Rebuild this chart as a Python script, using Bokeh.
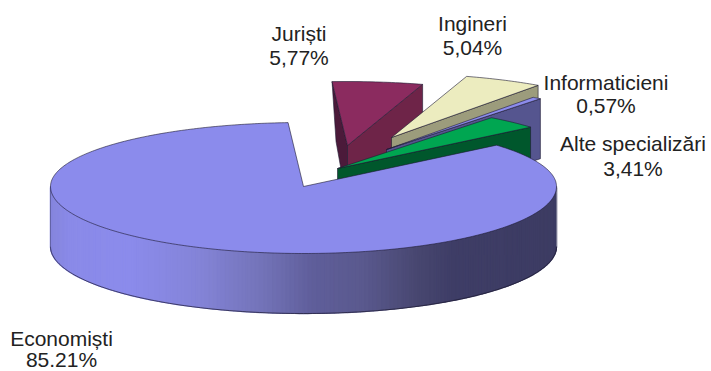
import math
import numpy as np
from bokeh.embed import file_html
from bokeh.models import Range1d
from bokeh.plotting import figure
from bokeh.resources import INLINE
from bokeh.core.properties import value

# Shares of the graduates by specialization, in percent
specializations = ["Economiști", "Juriști", "Ingineri", "Informaticieni", "Alte specializări"]
shares = [85.21, 5.77, 5.04, 0.57, 3.41]
share_labels = ["85.21%", "5,77%", "5,04%", "0,57%", "3,41%"]

# Look of the pie
CENTER = (303.0, 186.0)
RX, RY_BACK, RY_FRONT = 253.0, 64.0, 67.0
DEPTH = 60.0
START_ANGLE = 93.5

pull = {"Juriști": (44, -41), "Ingineri": (88, -49), "Informaticieni": (83, -37), "Alte specializări": (34, -18)}
top_color = {"Juriști": "#8b2b5f", "Ingineri": "#ececbf", "Informaticieni": "#8c8cec", "Alte specializări": "#00a651"}
cut_color = {"Juriști": "#6e2448", "Ingineri": "#9c9c7c", "Informaticieni": "#55558f", "Alte specializări": "#00572c"}
far_cut_color = "#4b1a3a"
EDGE = "#1c1a30"
MAIN_TOP = "#8b8bec"
wall_stops = [(50, "#8585dc"), (70, "#8a8ae8"), (130, "#8b8bec"), (197, "#8484d8"), (263, "#7373b8"),
              (313, "#5f5e9a"), (363, "#5a598e"), (420, "#47466f"), (453, "#3e3d66"), (556, "#3d3c63")]
label_spots = {"Economiști": (61, 338, 359), "Juriști": (298.5, 33, 57), "Ingineri": (472, 23, 47),
               "Informaticieni": (605.5, 82, 105), "Alte specializări": (632.5, 143, 168)}
FONT = "Liberation Sans"
FONT_SIZE = "21px"


def rim_point(c, deg):
    rad = math.radians(deg)
    s = math.sin(rad)
    ry = RY_BACK if s >= 0 else RY_FRONT
    return c[0] + RX * math.cos(rad), c[1] - ry * s


def wall_color(x):
    xs = [p[0] for p in wall_stops]
    rgb = [[int(p[1][i:i + 2], 16) for i in (1, 3, 5)] for p in wall_stops]
    return "#%02x%02x%02x" % tuple(int(round(np.interp(x, xs, [c[k] for c in rgb]))) for k in range(3))


p = figure(width=711, height=371, output_backend="svg", toolbar_location=None,
           x_range=Range1d(0, 711), y_range=Range1d(371, 0), min_border=0)
p.axis.visible = False
p.grid.visible = False
p.outline_line_color = None
p.background_fill_color = "white"


def poly(points, fill, line=EDGE, width=0.6):
    p.patch([q[0] for q in points], [q[1] for q in points], fill_color=fill, line_color=line, line_width=width)


# Boundaries of each slice, walking clockwise from the start angle
spans = {}
angle = START_ANGLE
for name, share in zip(specializations[1:], shares[1:]):
    sweep = share * 3.6
    spans[name] = (angle, angle - sweep)
    angle -= sweep
main_from = START_ANGLE
main_to = angle + 360

# Pulled-out slices, from the back of the pie to the front
for name in ["Juriști", "Ingineri", "Informaticieni", "Alte specializări"]:
    a0, a1 = spans[name]
    apex = (CENTER[0] + pull[name][0], CENTER[1] + pull[name][1])
    p0 = rim_point(apex, a0)
    p1 = rim_point(apex, a1)
    low_apex = (apex[0], apex[1] + DEPTH)
    if name == "Juriști":
        poly([p0, apex, low_apex, (p0[0] + 4, p0[1] + DEPTH)], far_cut_color)
    poly([apex, p1, (p1[0], p1[1] + DEPTH), low_apex], cut_color[name])
    arc = [rim_point(apex, a) for a in np.linspace(a0, a1, 24)]
    poly([apex] + arc, top_color[name])

# Main slice: shaded outer wall, then its top face
rim = [rim_point(CENTER, a) for a in np.linspace(180, 360, 181)]
xs, ys, colors = [], [], []
for (x0, y0), (x1, y1) in zip(rim[:-1], rim[1:]):
    xs.append([x0, x1, x1, x0])
    ys.append([y0, y1, y1 + DEPTH, y0 + DEPTH])
    colors.append(wall_color((x0 + x1) / 2))
p.patches(xs, ys, fill_color=colors, line_color=colors, line_width=1.3)
p.line([q[0] for q in rim], [q[1] + DEPTH for q in rim], line_color=EDGE, line_width=0.7)
p.line([rim[0][0]] * 2, [rim[0][1], rim[0][1] + DEPTH], line_color="#55558f", line_width=0.7)
p.line([rim[-1][0]] * 2, [rim[-1][1], rim[-1][1] + DEPTH], line_color="#8c8ca0", line_width=0.7)

main_arc = [rim_point(CENTER, a) for a in np.linspace(main_from, main_to, 400)]
main_top = [CENTER] + main_arc
p.patch([q[0] for q in main_top], [q[1] for q in main_top], fill_color=MAIN_TOP, line_color=None)
p.line([q[0] for q in main_arc], [q[1] for q in main_arc], line_color=EDGE, line_width=0.6)
p.line([main_arc[0][0], CENTER[0], main_arc[-1][0]], [main_arc[0][1], CENTER[1], main_arc[-1][1]],
       line_color=EDGE, line_width=0.6)

# Two-line labels: specialization name above its share
for name, label in zip(specializations, share_labels):
    cx, y_name, y_share = label_spots[name]
    p.text([cx, cx], [y_name, y_share], text=[name, label], text_align="center", text_baseline="middle",
           text_font=value(FONT), text_font_size=FONT_SIZE, text_color="#222222")

open("out.html", "w").write(file_html(p, INLINE))
